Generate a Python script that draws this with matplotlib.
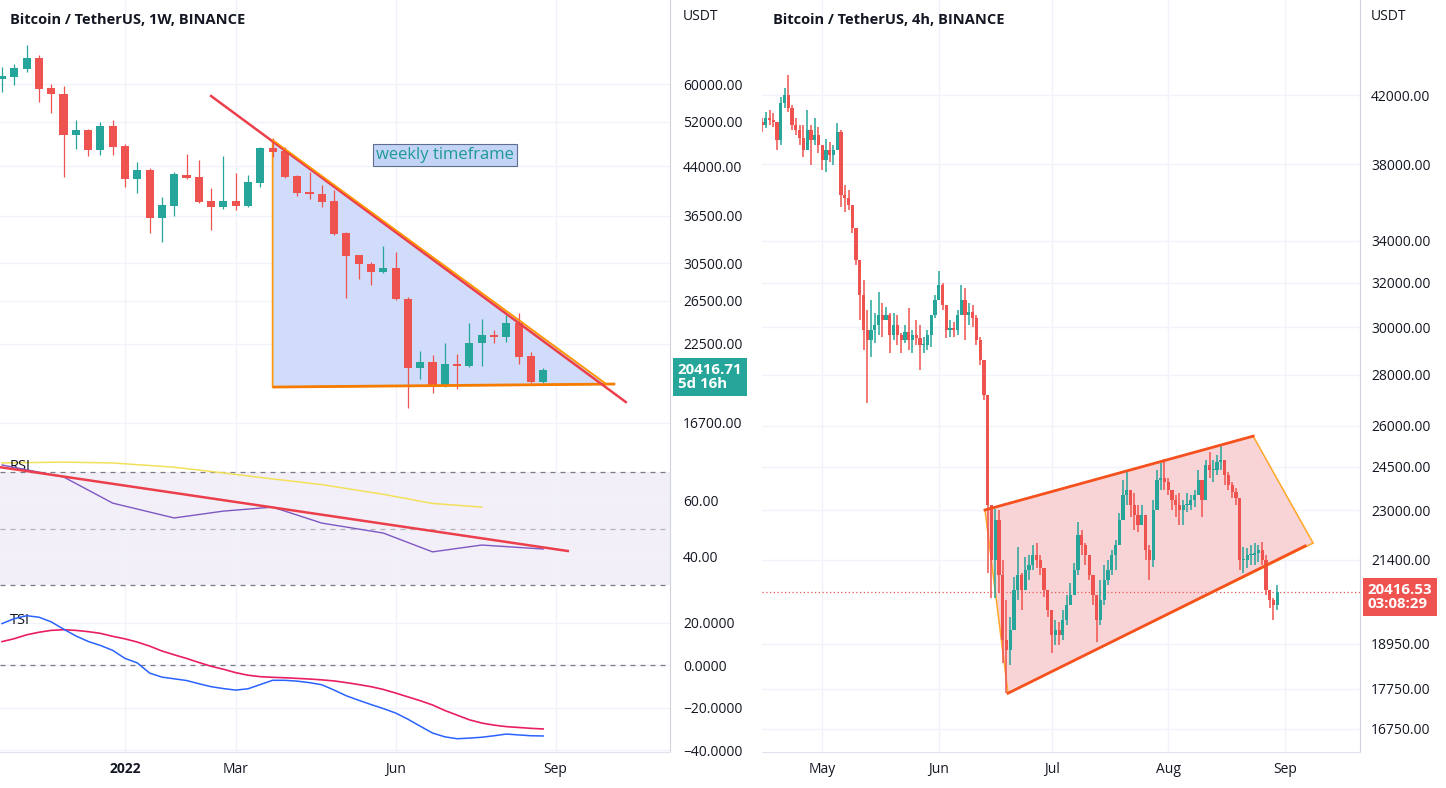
import numpy as np
import pandas as pd
import matplotlib
matplotlib.use("Agg")
import matplotlib.pyplot as plt
import matplotlib.dates as mdates
import matplotlib.transforms as mtransforms
from matplotlib.patches import Polygon
from matplotlib.ticker import NullLocator

plt.rcParams['font.family'] = ['Open Sans', 'DejaVu Sans']

GREEN = '#26a69a'
RED = '#ef5350'
TXT = '#131722'

# ---------------- left chart: weekly BTC/USDT ----------------
week_first = '2021-10-25'
w_open = [61140, 61610, 63490, 66190, 59100, 57780, 49500, 50440, 46770, 51210,
          47480, 41930, 43370, 36190, 37860, 42560, 42240, 38580, 37720, 38580,
          37860, 41300, 47130, 46600, 42400, 39920, 39620, 38580, 34200, 31470,
          30420, 29510, 29960, 26660, 20550, 21020, 19200, 20860, 20700, 22580,
          23270, 23100, 24350, 21500, 19490]
w_high = [63980, 64700, 69510, 66940, 60000, 59550, 52380, 50700, 52050, 52380,
          47840, 44700, 43700, 39170, 43050, 46070, 45040, 40530, 45730, 42890,
          42560, 47310, 48940, 47310, 42560, 43050, 40990, 40220, 34300, 31500,
          30650, 32560, 31830, 26860, 21910, 21580, 22580, 21660, 24350, 24720,
          23710, 25090, 25280, 21820, 20550]
w_low = [58220, 59770, 62780, 56060, 53780, 42240, 46950, 45730, 45900, 45900,
         40680, 39770, 34200, 33050, 36460, 41930, 38290, 34590, 37500, 37300,
         37720, 40680, 45550, 42080, 39320, 38880, 37720, 33900, 26760, 28750,
         28100, 29400, 26600, 17670, 19710, 18690, 19100, 18980, 20600, 20700,
         22580, 22660, 20860, 19400, 19450]
w_close = [61840, 63730, 66190, 58880, 57780, 49500, 50440, 46770, 51210, 47310,
           41930, 43370, 36190, 38010, 42720, 42080, 38440, 37720, 38580, 37860,
           41450, 47130, 46420, 42240, 39770, 39620, 38440, 34070, 31350, 30420,
           29510, 29960, 26660, 20550, 21020, 19200, 20860, 20700, 22580, 23270,
           23100, 24350, 21420, 19490, 20416.71]

left_price_ticks = [60000, 52000, 44000, 36500, 30500, 26500, 22500, 16700]
left_month_ticks = ['2022-01-03', '2022-03-07', '2022-06-06', '2022-09-05']
left_month_labels = ['2022', 'Mar', 'Jun', 'Sep']

# RSI (monthly values plotted on the weekly bars)
rsi_dates = ['2021-10-25', '2021-11-29', '2021-12-27', '2022-01-31', '2022-02-28',
             '2022-03-28', '2022-04-25', '2022-05-30', '2022-06-27', '2022-07-25',
             '2022-08-29']
rsi_vals = [72.3, 68.1, 58.9, 53.7, 56.1, 57.5, 51.9, 48.4, 41.8, 44.2, 42.8]
rsi_ma = [73.0, 73.3, 73.0, 71.5, 69.5, 67.4, 65.4, 62.0, 58.8, 57.5]
rsi_trend_dates = ['2021-10-23', '2022-09-12']
rsi_trend_vals = [71.6, 42.1]

# TSI
tsi_vals = [19.5, 21.8, 23.2, 22.5, 20.3, 16.9, 13.7, 11.1, 9.2, 6.9,
            3.1, 1.0, -3.8, -5.7, -6.5, -7.3, -8.8, -10.2, -11.1, -11.8,
            -11.2, -9.2, -7.2, -7.2, -7.6, -8.3, -9.3, -11.8, -14.5, -16.6,
            -18.6, -20.5, -22.6, -25.5, -28.8, -32.0, -33.8, -34.7, -34.4, -34.0,
            -33.3, -32.5, -32.9, -33.3, -33.4]
tsi_signal = [11.0, 12.4, 14.2, 15.4, 16.3, 16.6, 16.3, 15.7, 14.9, 13.5,
              12.3, 10.8, 8.9, 6.6, 4.8, 3.1, 1.2, -0.6, -2.0, -3.6,
              -4.8, -5.5, -5.8, -6.0, -6.3, -6.6, -7.0, -7.5, -8.3, -9.2,
              -10.2, -11.5, -13.2, -15.0, -16.8, -18.8, -21.4, -23.6, -25.8, -27.3,
              -28.3, -29.0, -29.4, -29.8, -30.1]

# drawings on the weekly chart
trend_dates = ['2022-02-21', '2022-10-15']
trend_prices = [57340, 18070]
tri_dates = ['2022-03-28', '2022-03-28', '2022-10-04']
tri_prices = [48570, 19120, 19330]
base_dates = ['2022-03-28', '2022-10-09']
base_prices = [19120, 19340]
note_date, note_price = '2022-07-04', 45900

# ---------------- right chart: BTC/USDT (daily readings of the 4h chart) ----------------
day_first = '2022-04-15'
first_open = 40390
d_high = [40620, 40980, 41100, 40920, 40210, 41880, 42430, 43240, 41400, 40620,
          40210, 40210, 41100, 40210, 40620, 40100, 39060, 39400, 39230, 39060,
          40330, 39920, 36860, 36600, 35810, 34530, 32730, 32120, 30750, 31200,
          30620, 31560, 31060, 30880, 30620, 30620, 30530, 29740, 30090, 30840,
          29870, 30310, 30090, 29570, 29870, 30090, 31420, 32540, 31980, 30970,
          30310, 30220, 30750, 31880, 31740, 31060, 30970, 30530, 29570, 28600,
          26990, 23010, 23040, 23010, 21400, 20190, 19700, 20880, 21800, 21000,
          21490, 21550, 21870, 21930, 21550, 21090, 20490, 19900, 19620, 19560,
          19900, 20340, 20700, 21310, 22610, 22350, 21930, 21550, 20940, 20340,
          20790, 21240, 21400, 21710, 22030, 22910, 24030, 24380, 23690, 23580,
          23180, 23180, 22840, 21870, 23340, 24380, 24630, 24780, 24100, 23690,
          23510, 23580, 23340, 23580, 23510, 23690, 24380, 24030, 24740, 25030,
          24740, 24920, 25280, 24670, 24310, 23960, 23750, 23180, 21800, 21770,
          21870, 21930, 21870, 21960, 21550, 20490, 20250, 20640]
d_low = [39810, 40040, 40210, 40100, 38780, 39060, 41220, 40980, 39920, 39630,
         39060, 38390, 38780, 37950, 39060, 38610, 37670, 37560, 38110, 37950,
         38780, 35700, 35450, 35550, 34380, 32820, 30310, 29020, 26870, 28720,
         29310, 29650, 29570, 30310, 28890, 29440, 29230, 28890, 29310, 29020,
         28890, 29230, 28190, 28890, 29020, 29140, 30390, 31200, 30750, 29520,
         29570, 29570, 29650, 30750, 29440, 30090, 30000, 29230, 28390, 26990,
         21000, 20250, 20250, 20400, 18430, 17640, 18380, 19470, 20190, 19900,
         20640, 20790, 21090, 21150, 20940, 20280, 19700, 18700, 18920, 18920,
         19050, 19470, 20050, 20490, 20940, 21550, 21240, 20790, 20050, 19000,
         19470, 20050, 20640, 20940, 21090, 21870, 22680, 23180, 22780, 22350,
         22290, 22510, 21400, 20790, 21180, 23010, 23690, 23690, 23510, 23010,
         22780, 22510, 22510, 22940, 23010, 23110, 23510, 22780, 23340, 24100,
         23960, 24210, 24380, 23860, 23690, 23410, 23180, 21090, 21000, 21150,
         21240, 21240, 21340, 21240, 20340, 19960, 19620, 19900]
d_close = [40210, 40620, 40500, 40390, 39350, 41520, 42000, 41220, 40210, 39920,
           39460, 38780, 39920, 39350, 39630, 39060, 38220, 38780, 38500, 38780,
           39810, 36330, 36170, 35810, 34630, 33060, 31420, 29870, 29440, 29870,
           30090, 30530, 30310, 30530, 29650, 30090, 29650, 29440, 29780, 29440,
           29650, 29520, 29230, 29230, 29650, 30530, 31200, 31880, 30970, 29870,
           29950, 29870, 30530, 31200, 30530, 30660, 30390, 29440, 28600, 27180,
           23180, 21400, 22680, 20940, 19050, 18780, 19330, 20490, 20940, 20490,
           21090, 21240, 21550, 21400, 21150, 20490, 19900, 19190, 19330, 19190,
           19620, 20050, 20340, 21090, 22190, 21870, 21550, 20940, 20340, 19620,
           20190, 20790, 21090, 21550, 21870, 22680, 23510, 23690, 23180, 22840,
           22510, 22840, 21710, 21400, 23010, 24030, 24100, 23960, 23690, 23340,
           23180, 23010, 23180, 23180, 23340, 23510, 24030, 23340, 24560, 24380,
           24380, 24670, 24740, 24210, 23860, 23620, 23410, 21400, 21400, 21550,
           21550, 21620, 21710, 21400, 20490, 20190, 20050, 20416.53]

right_price_ticks = [42000, 38000, 34000, 32000, 30000, 28000, 26000, 24500,
                     23000, 21400, 18950, 17750, 16750]
right_month_ticks = ['2022-05-01', '2022-06-01', '2022-07-01', '2022-08-01', '2022-09-01']
right_month_labels = ['May', 'Jun', 'Jul', 'Aug', 'Sep']

wedge_dates = ['2022-06-13 07:00', '2022-08-23 14:00', '2022-09-08 13:00', '2022-06-19 10:00']
wedge_prices = [23010, 25610, 21930, 17640]
wedge_low_end_date, wedge_low_end_price = '2022-09-06 10:00', 21840


def dn(d):
    return mdates.date2num(pd.to_datetime(d))


def candles(ax, dates, o, h, l, c, width, lw):
    x = mdates.date2num(dates)
    o, h, l, c = (np.asarray(v, dtype=float) for v in (o, h, l, c))
    cols = np.where(c >= o, GREEN, RED)
    # wick also reaches the open so the trace stays continuous
    ax.vlines(x, np.minimum(l, o), np.maximum(h, o), colors=cols, lw=lw, zorder=3)
    ax.bar(x, np.maximum(np.abs(c - o), c * 0.0015), width, bottom=np.minimum(o, c),
           color=cols, linewidth=0, zorder=4)


def style(ax):
    for s in ['top', 'left']:
        ax.spines[s].set_visible(False)
    ax.spines['right'].set_color('#d1d4dc')
    ax.spines['bottom'].set_color('#e0e3eb')
    ax.yaxis.tick_right()
    ax.tick_params(axis='y', length=0, pad=9.5, labelsize=10, labelcolor=TXT)
    ax.tick_params(axis='x', length=0, pad=7, labelsize=10, labelcolor=TXT)
    ax.grid(color='#f0f3fa', lw=1)
    ax.set_axisbelow(True)


def price_box(ax, price, text, color, up_pts):
    blend = mtransforms.blended_transform_factory(ax.transAxes, ax.transData)
    ax.annotate(text, xy=(1.0, price), xycoords=blend, xytext=(5.5, up_pts),
                textcoords='offset points', ha='left', va='top', color='white',
                fontsize=10.8, fontweight='bold', linespacing=1.05, zorder=10,
                annotation_clip=False,
                bbox=dict(boxstyle='square,pad=0.3', fc=color, ec='none'))


W, H = 1446, 788


def box(x0, y0, x1, y1):
    return [x0 / W, 1 - y1 / H, (x1 - x0) / W, (y1 - y0) / H]


fig = plt.figure(figsize=(W / 100, H / 100), dpi=100)
ax_p = fig.add_axes(box(0, 0, 670, 446))
ax_r = fig.add_axes(box(0, 446, 670, 600), sharex=ax_p)
ax_t = fig.add_axes(box(0, 600, 670, 752), sharex=ax_p)
ax_b = fig.add_axes(box(762, 0, 1360, 752))
for a in (ax_p, ax_r, ax_t, ax_b):
    style(a)

# ---- weekly candles ----
weeks = pd.date_range(week_first, periods=len(w_open), freq='7D')
candles(ax_p, weeks, w_open, w_high, w_low, w_close, width=4.6, lw=0.9)
ax_p.set_yscale('log')
ax_p.yaxis.set_minor_locator(NullLocator())
ax_p.set_yticks(left_price_ticks, [f'{v:.2f}' for v in left_price_ticks])
ax_p.set_ylim(15307, 82380)
x0 = dn(week_first) - 1.14
ax_p.set_xlim(x0, x0 + 381.3)
ax_p.set_xticks([dn(d) for d in left_month_ticks])
ax_p.tick_params(axis='x', labelbottom=False)

tri = Polygon(np.column_stack([[dn(d) for d in tri_dates], tri_prices]), closed=True,
              fc='#d0dcfa', ec='#ff9800', lw=1.2, zorder=2)
ax_p.add_patch(tri)
ax_p.plot([dn(d) for d in base_dates], base_prices, color='#f57c00', lw=2, zorder=5,
          solid_capstyle='butt')
ax_p.plot([dn(d) for d in trend_dates], trend_prices, color='#ec3f4c', lw=1.8, zorder=5)
ax_p.plot([dn(d) for d in tri_dates[::-2]], tri_prices[::-2], color='#ff9800', lw=1.0,
          zorder=6)
ax_p.text(dn(note_date), note_price, 'weekly timeframe', ha='center', va='center',
          fontsize=12, color='#1e9a94', zorder=7,
          bbox=dict(boxstyle='square,pad=0.2', fc='#c4d4f7', ec='#5e6f8e', lw=0.8))

ax_p.text(10 / 670, 1 - 20 / 446, 'Bitcoin / TetherUS, 1W, BINANCE', transform=ax_p.transAxes,
          fontsize=10.5, fontweight='bold', color=TXT, va='center')
ax_p.text(1 + 13 / 670, 1 - 17 / 446, 'USDT', transform=ax_p.transAxes, fontsize=10,
          color=TXT, va='center', clip_on=False)
price_box(ax_p, w_close[-1], f'{w_close[-1]:.2f}\n5d 16h', GREEN, 5)

# ---- RSI ----
ax_r.axhspan(30, 70, color='#7e57c2', alpha=0.09, lw=0, zorder=0)
for lvl, col in [(70, '#787b86'), (50, '#b2b5be'), (30, '#787b86')]:
    ax_r.axhline(lvl, color=col, lw=0.9, ls=(0, (4, 4)), zorder=1)
rd = [dn(d) for d in rsi_dates]
ax_r.plot(rd[:len(rsi_ma)], rsi_ma, color='#f2e05a', lw=1.1, zorder=3)
ax_r.plot(rd, rsi_vals, color='#7e57c2', lw=1.0, zorder=4)
ax_r.plot([dn(d) for d in rsi_trend_dates], rsi_trend_vals, color='#ec3f4c', lw=1.8, zorder=5)
ax_r.set_ylim(24.91, 78.95)
ax_r.set_yticks([60, 40], ['60.00', '40.00'])
ax_r.tick_params(axis='x', labelbottom=False)
ax_r.text(10 / 670, 1 - 20 / 154, 'RSI', transform=ax_r.transAxes, fontsize=10.5,
          color=TXT, va='center')

# ---- TSI ----
ax_t.axhline(0, color='#787b86', lw=0.9, ls=(0, (4, 4)), zorder=1)
ax_t.plot(weeks, tsi_signal, color='#e91e63', lw=1.2, zorder=3)
ax_t.plot(weeks, tsi_vals, color='#2962ff', lw=1.1, zorder=4)
ax_t.set_ylim(-40.94, 30.59)
ax_t.set_yticks([20, 0, -20, -40], ['20.0000', '0.0000', '\u221220.0000', '\u221240.0000'])
ax_t.set_xticks([dn(d) for d in left_month_ticks], left_month_labels)
for lbl in ax_t.get_xticklabels():
    if lbl.get_text() == '2022':
        lbl.set_fontweight('bold')
ax_t.text(10 / 670, 1 - 21 / 152, 'TSI', transform=ax_t.transAxes, fontsize=10.5,
          color=TXT, va='center')

# ---- right chart ----
days = pd.date_range(day_first, periods=len(d_close), freq='D')
d_open = [first_open] + d_close[:-1]
wedge = Polygon(np.column_stack([[dn(d) for d in wedge_dates], wedge_prices]), closed=True,
                fc='#f9d4d7', ec='#ffa726', lw=1.1, zorder=1)
ax_b.add_patch(wedge)
candles(ax_b, days, d_open, d_high, d_low, d_close, width=0.86, lw=1.1)
ax_b.plot([dn(wedge_dates[0]), dn(wedge_dates[1])], wedge_prices[:2], color='#f4511e',
          lw=2, zorder=5)
ax_b.plot([dn(wedge_dates[3]), dn(wedge_low_end_date)], [wedge_prices[3], wedge_low_end_price],
          color='#f4511e', lw=2, zorder=5)
ax_b.axhline(d_close[-1], color=RED, lw=0.9, ls=(0, (1, 2)), zorder=2)
ax_b.set_yscale('log')
ax_b.yaxis.set_minor_locator(NullLocator())
ax_b.set_yticks(right_price_ticks, [f'{v:.2f}' for v in right_price_ticks])
ax_b.set_ylim(16199, 48204)
ax_b.set_xlim(dn(day_first), dn(day_first) + 159.0)
ax_b.set_xticks([dn(d) for d in right_month_ticks], right_month_labels)
ax_b.tick_params(axis='y', pad=8)
ax_b.text(11 / 598, 1 - 20 / 752, 'Bitcoin / TetherUS, 4h, BINANCE', transform=ax_b.transAxes,
          fontsize=10.5, fontweight='bold', color=TXT, va='center')
ax_b.text(1 + 11 / 598, 1 - 17 / 752, 'USDT', transform=ax_b.transAxes, fontsize=10,
          color=TXT, va='center', clip_on=False)
price_box(ax_b, d_close[-1], f'{d_close[-1]:.2f}\n03:08:29', RED, 7)

fig.savefig('out.png', dpi=100, facecolor='white')
